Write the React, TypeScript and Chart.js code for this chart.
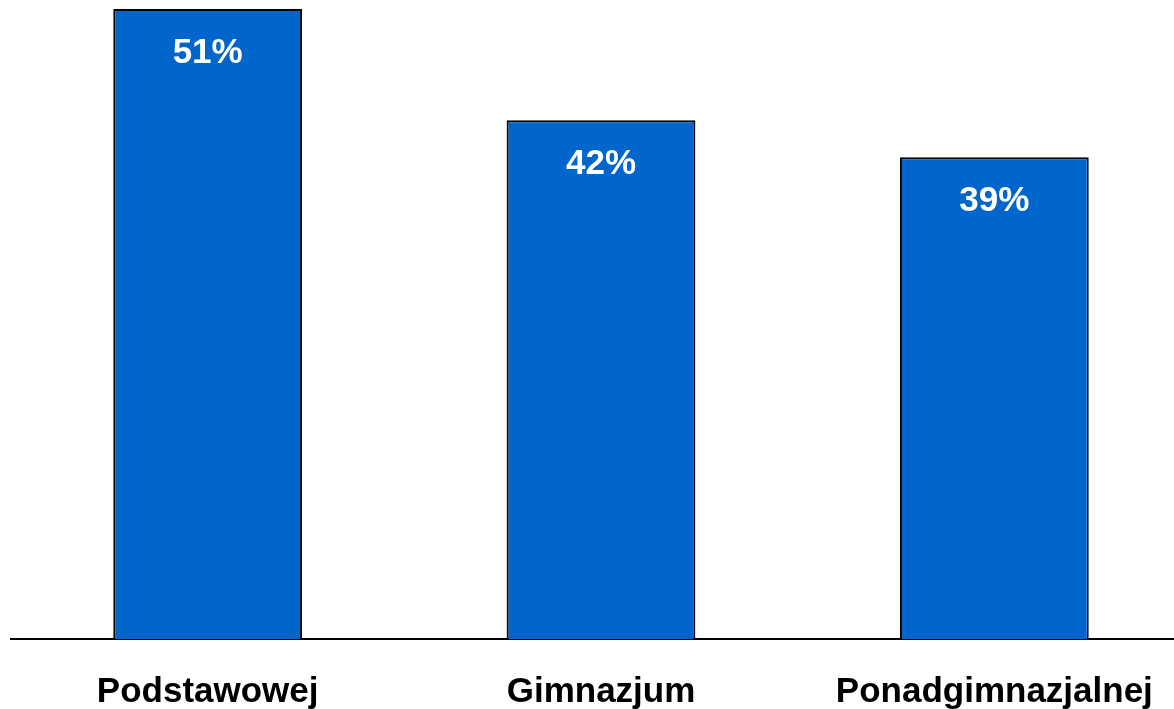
import React, { useEffect, useRef } from "react";
import { Chart, registerables } from "chart.js";

Chart.register(...registerables);

const categories: string[] = ["Podstawowej", "Gimnazjum", "Ponadgimnazjalnej"];
const values: number[] = [51, 42, 39];

const FONT = '"Liberation Sans", Arial, Helvetica, sans-serif';

const valueLabelPlugin = {
  id: "valueLabels",
  afterDatasetsDraw(chart: any) {
    const ctx = chart.ctx;
    const meta = chart.getDatasetMeta(0);
    ctx.save();
    ctx.fillStyle = "#ffffff";
    ctx.font = `bold 35px ${FONT}`;
    ctx.textAlign = "center";
    ctx.textBaseline = "middle";
    meta.data.forEach((bar: any, i: number) => {
      ctx.fillText(`${values[i]}%`, bar.x, bar.y + 44);
    });
    ctx.restore();
  },
};

export default function App() {
  const ref = useRef<HTMLCanvasElement | null>(null);

  useEffect(() => {
    if (!ref.current) return;
    const chart = new Chart(ref.current, {
      type: "bar",
      data: {
        labels: categories,
        datasets: [
          {
            data: values,
            backgroundColor: "#0066CC",
            borderColor: "#000000",
            borderWidth: 2,
            categoryPercentage: 1,
            barPercentage: 0.48,
          },
        ],
      },
      options: {
        responsive: false,
        animation: false,
        layout: { padding: { left: 11, right: 9, top: 0, bottom: 0 } },
        plugins: {
          legend: { display: false },
          tooltip: { enabled: false },
        },
        scales: {
          x: {
            grid: { display: false, drawTicks: false },
            border: { display: true, color: "#000000", width: 2 },
            ticks: {
              color: "#000000",
              padding: 36,
              font: { family: FONT, size: 35, weight: "bold", lineHeight: 1 },
              maxRotation: 0,
              autoSkip: false,
            },
            afterFit(scale: any) {
              scale.height = 70;
            },
          },
          y: {
            display: false,
            min: 0,
            max: 51.73,
          },
        },
      },
      plugins: [valueLabelPlugin],
    });
    return () => chart.destroy();
  }, []);

  return (
    <div
      style={{
        position: "fixed",
        left: 0,
        top: 0,
        width: 1174,
        height: 709,
        overflow: "hidden",
        background: "#ffffff",
      }}
    >
      <canvas ref={ref} width={1200} height={709} style={{ display: "block" }} />
    </div>
  );
}
